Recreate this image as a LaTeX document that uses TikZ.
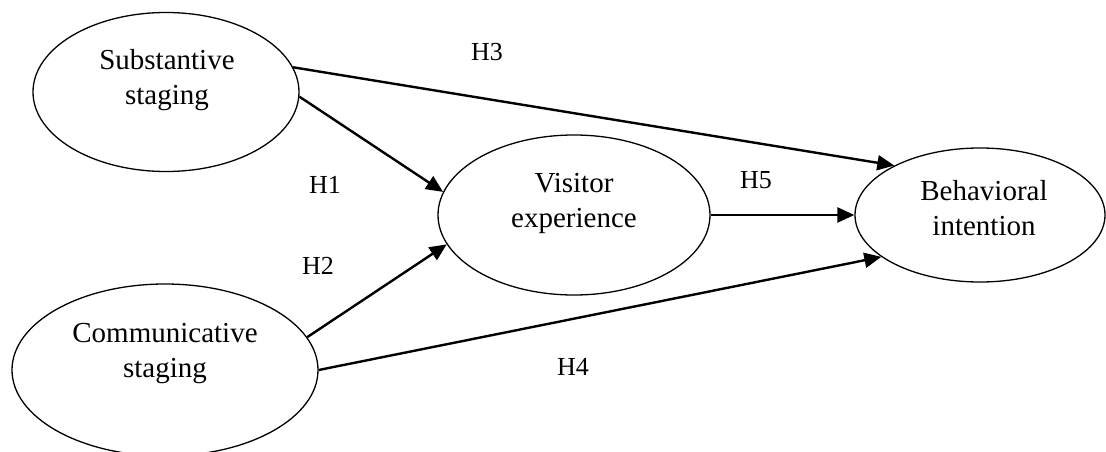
\documentclass[tikz,border=0pt]{standalone}
\usepackage{fontspec}
\setmainfont{Liberation Serif}
\usetikzlibrary{shapes.geometric,arrows.meta}
\tikzset{
  ell/.style={draw, ellipse, line width=1.3pt, inner sep=0pt},
  txt/.style={font=\fontsize{29}{35}\selectfont, align=center, inner sep=0pt},
  hlab/.style={font=\fontsize{26}{30}\selectfont, inner sep=0pt},
  conn/.style={line width=2.4pt, -{Triangle[length=17pt,width=15pt]}},
}
\begin{document}
\begin{tikzpicture}[x=1pt,y=-1pt]
\useasboundingbox (0,0) rectangle (1106,452);
% ellipses
\node[ell, minimum width=266pt, minimum height=159pt] (sub) at (166,92) {};
\node[ell, minimum width=272pt, minimum height=160pt] (vis) at (574,215) {};
\node[ell, minimum width=250pt, minimum height=134pt] (beh) at (980,215) {};
\node[ell, minimum width=306pt, minimum height=172pt] (com) at (165,370) {};
% texts
\node[txt] (subt) at (167,80) {Substantive\\staging};
\node[txt] (vist) at (574,203) {Visitor\\experience};
\node[txt] (beht) at (984,208) {Behavioral\\intention};
\node[txt] (comt) at (165,354) {Communicative\\staging};
% labels
\node[hlab] (h1) at (325,185) {H1};
\node[hlab] (h2) at (318,266) {H2};
\node[hlab] (h3) at (487,52) {H3};
\node[hlab] (h4) at (573,367) {H4};
\node[hlab] (h5) at (756,180) {H5};
% connectors
\draw[conn] (sub.11.6) -- (beh.150);
\draw[conn] (sub.-2.6) -- (vis.170.4);
\draw[conn] (com.13) -- (vis.193);
\draw[conn] (vis.0) -- (beh.180);
\draw[conn] (com.0) -- (beh.203.3);
\end{tikzpicture}
\end{document}
